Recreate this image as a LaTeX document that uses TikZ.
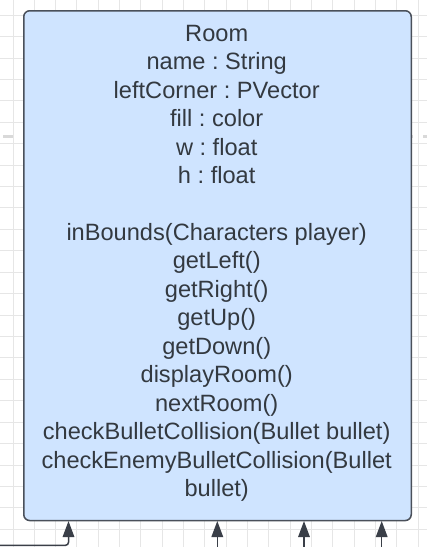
\documentclass[tikz,border=0pt]{standalone}
\usepackage{fontspec}
\setmainfont{Liberation Sans}
\usetikzlibrary{arrows.meta}
\frenchspacing
\definecolor{gridgray}{HTML}{E6E6E6}
\definecolor{pagegray}{HTML}{D9D9D9}
\definecolor{boxfill}{HTML}{CFE4FF}
\definecolor{boxline}{HTML}{4A505A}
\definecolor{txt}{HTML}{333940}
\definecolor{arrcol}{HTML}{3A3F48}
\tikzset{
  gridline/.style={gridgray, line width=1pt},
  pageline/.style={pagegray, line width=3pt, dash pattern=on 10pt off 10pt},
  classbox/.style={draw=boxline, fill=boxfill, line width=1.5pt, rounded corners=6pt,
    minimum width=387.5pt, minimum height=509.8pt, inner sep=0pt, anchor=north west},
  classtext/.style={align=center, anchor=north, inner sep=0pt, text=txt,
    font=\fontsize{23.6}{28.44}\selectfont\frenchspacing},
  conn/.style={arrcol, line width=1.5pt, -{Triangle[length=16pt, width=11.5pt]}},
}
\begin{document}
\begin{tikzpicture}[x=1pt, y=-1pt]
\useasboundingbox (0,0) rectangle (427,547);
\clip (0,0) rectangle (427,547);
\fill[white] (0,0) rectangle (427,547);
\foreach \i in {0,...,19} \draw[gridline] ({13+21.33*\i},0) -- ++(0,547);
\foreach \j in {0,...,25} \draw[gridline] (0,{15.2+21.42*\j}) -- ++(427,0);
\draw[pageline] (3,136.2) -- (430,136.2);
\node[classbox] (room) at (23,10) {};
\node[classtext] (roomtext) at (216.7,25) {Room\\name : String\\leftCorner : PVector\\fill : color\\w : float\\h : float\\\mbox{}\\inBounds(Characters player)\\getLeft()\\getRight()\\getUp()\\getDown()\\displayRoom()\\nextRoom()\\checkBulletCollision(Bullet bullet)\\checkEnemyBulletCollision(Bullet\\bullet)};
\coordinate (s1) at (0,545.3);
\coordinate (s2) at (217.3,547);
\coordinate (s3) at (304,547);
\coordinate (s4) at (381.7,547);
\coordinate (t1) at (68.5,521);
\draw[conn, rounded corners=3pt] (s1) -- (s1 -| t1) -- (t1);
\draw[conn] (s2) -- (s2 |- t1);
\draw[conn] (s3) -- (s3 |- t1);
\draw[conn] (s4) -- (s4 |- t1);
\end{tikzpicture}
\end{document}
